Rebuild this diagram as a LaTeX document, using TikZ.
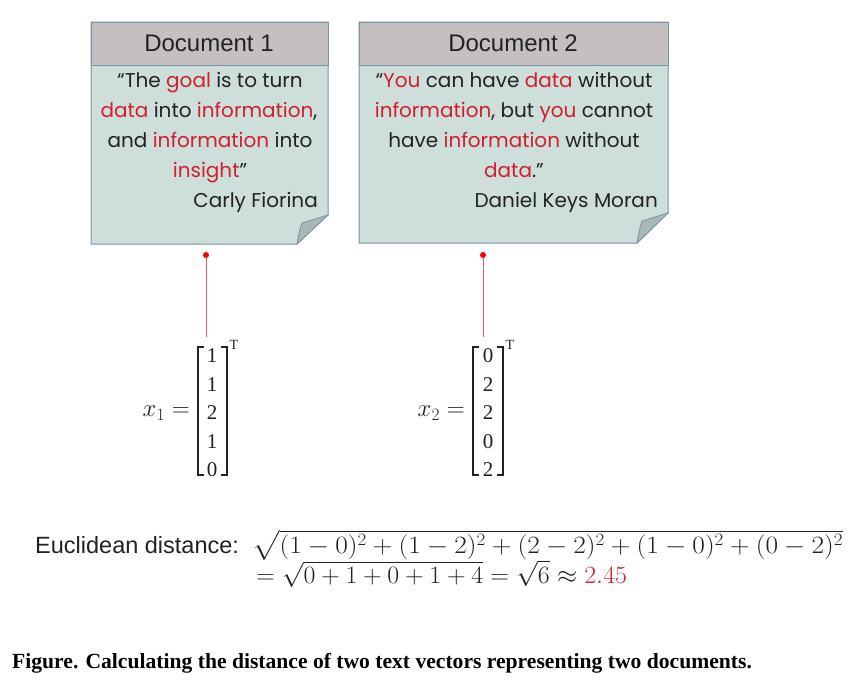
\documentclass[tikz,border=0pt]{standalone}
\usepackage{amsmath}
\usepackage{graphicx}
\usepackage{fontspec}
\setmainfont{Liberation Serif}
\newfontfamily\arialf{Liberation Sans}
\newfontfamily\gothf{Poppins}
\usetikzlibrary{calc}
\definecolor{boxfill}{RGB}{205,222,219}
\definecolor{headfill}{RGB}{197,191,191}
\definecolor{boxline}{RGB}{122,148,168}
\definecolor{foldfill}{RGB}{168,184,180}
\definecolor{qred}{RGB}{208,32,46}
\definecolor{lred}{RGB}{240,90,100}
\definecolor{txt}{RGB}{34,34,34}
\newcommand{\rw}[1]{\textcolor{qred}{#1}}
\begin{document}
\begin{tikzpicture}[x=1pt,y=-1pt,
  quote/.style={font=\gothf\fontsize{20}{24}\selectfont, text=txt, inner sep=0pt, anchor=base},
  quoter/.style={font=\gothf\fontsize{20}{24}\selectfont, text=txt, inner sep=0pt, anchor=base east},
  headtxt/.style={font=\arialf\fontsize{24}{28}\selectfont, text=txt, inner sep=0pt, anchor=base},
  dotst/.style={circle, fill=red, inner sep=0pt, minimum size=6pt},
  conn/.style={lred, line width=1pt},
  digit/.style={font=\fontsize{21}{24}\selectfont, inner sep=0pt, text=txt},
  brk/.style={line width=1.2pt, txt},
  mathtxt/.style={font=\fontsize{23}{26}\selectfont, inner sep=0pt, text=txt}
]
\useasboundingbox (0,0) rectangle (862,686);
\fill[white] (0,0) rectangle (862,686);
% Document 1 box
\filldraw[fill=boxfill, draw=boxline, line width=1pt] (91,22) -- (328,22) -- (328,215) -- (297,244) -- (91,244) -- cycle;
\filldraw[fill=headfill, draw=boxline, line width=1pt] (91,22) rectangle (328,65);
\filldraw[fill=foldfill, draw=boxline, line width=0.8pt] (297,244) .. controls (299,232) .. (302,223) .. controls (315,219) .. (328,215) -- cycle;
% Document 2 box
\filldraw[fill=boxfill, draw=boxline, line width=1pt] (359,22) -- (668,22) -- (668,213) -- (637,243) -- (359,243) -- cycle;
\filldraw[fill=foldfill, draw=boxline, line width=0.8pt] (637,243) .. controls (639,231) .. (642,221) .. controls (655,217) .. (668,213) -- cycle;
\filldraw[fill=headfill, draw=boxline, line width=1pt] (359,22) rectangle (668,65);
% headers
\node[headtxt] (h1) at (209,51) {Document 1};
\node[headtxt] (h2) at (513,51) {Document 2};
% quote 1
\node[quote] (q11) at (210,87) {“The \rw{goal} is to turn};
\node[quote] (q12) at (209,117) {\rw{data} into \rw{information},};
\node[quote] (q13) at (210,147) {and \rw{information} into};
\node[quote] (q14) at (210,177) {\rw{insight}”};
\node[quoter] (q15) at (318,207) {Carly Fiorina};
% quote 2
\node[quote] (q21) at (514,87) {“\rw{You} can have \rw{data} without};
\node[quote] (q22) at (514,117) {\rw{information}, but \rw{you} cannot};
\node[quote] (q23) at (514,147) {have \rw{information} without};
\node[quote] (q24) at (514,177) {\rw{data}.”};
\node[quoter] (q25) at (658,207) {Daniel Keys Moran};
% dots and connectors
\node[dotst] (d1) at (206,255) {};
\node[dotst] (d2) at (483,255) {};
\coordinate (e1) at (206,337);
\coordinate (e2) at (483,337);
\draw[conn] (d1) -- (e1);
\draw[conn] (d2) -- (e2);
% vector 1
\node[mathtxt, anchor=east] (x1) at (190,413) {$x_1 =$};
\node[digit] (a1) at (212,356) {1};
\node[digit] (a2) at (212,385) {1};
\node[digit] (a3) at (212,413) {2};
\node[digit] (a4) at (212,442) {1};
\node[digit] (a5) at (212,470) {0};
\draw[brk] (204,347) -- (198,347) -- (198,475) -- (204,475);
\draw[brk] (221,347) -- (227,347) -- (227,475) -- (221,475);
\node[digit, font=\fontsize{14}{16}\selectfont] (t1) at (234,345) {T};
% vector 2
\node[mathtxt, anchor=east] (x2) at (465,413) {$x_2 =$};
\node[digit] (b1) at (488,356) {0};
\node[digit] (b2) at (488,385) {2};
\node[digit] (b3) at (488,413) {2};
\node[digit] (b4) at (488,442) {0};
\node[digit] (b5) at (488,470) {2};
\draw[brk] (479,347) -- (473,347) -- (473,475) -- (479,475);
\draw[brk] (497,347) -- (503,347) -- (503,475) -- (497,475);
\node[digit, font=\fontsize{14}{16}\selectfont] (t2) at (510,345) {T};
% formula
\node[inner sep=0pt, anchor=base west, font=\arialf\fontsize{23.5}{28}\selectfont, text=txt] (f0) at (35,553) {Euclidean distance:};
\node[inner sep=0pt, anchor=base west, font=\fontsize{25}{30}\selectfont, text=txt] (f1) at (252,553)
  {\scalebox{1.1}[1]{$\sqrt{(1-0)^2+(1-2)^2+(2-2)^2+(1-0)^2+(0-2)^2}$}};
\node[inner sep=0pt, anchor=base west, font=\fontsize{25}{30}\selectfont, text=txt] (f2) at (256,583)
  {\scalebox{1.04}[1]{$=\sqrt{0+1+0+1+4}=\sqrt{6}\approx \textcolor{qred}{2.45}$}};
% caption
\node[inner sep=0pt, anchor=base west, font=\bfseries\fontsize{21.6}{26}\selectfont] (cap) at (12,668)
  {Figure. Calculating the distance of two text vectors representing two documents.};
\end{tikzpicture}
\end{document}
